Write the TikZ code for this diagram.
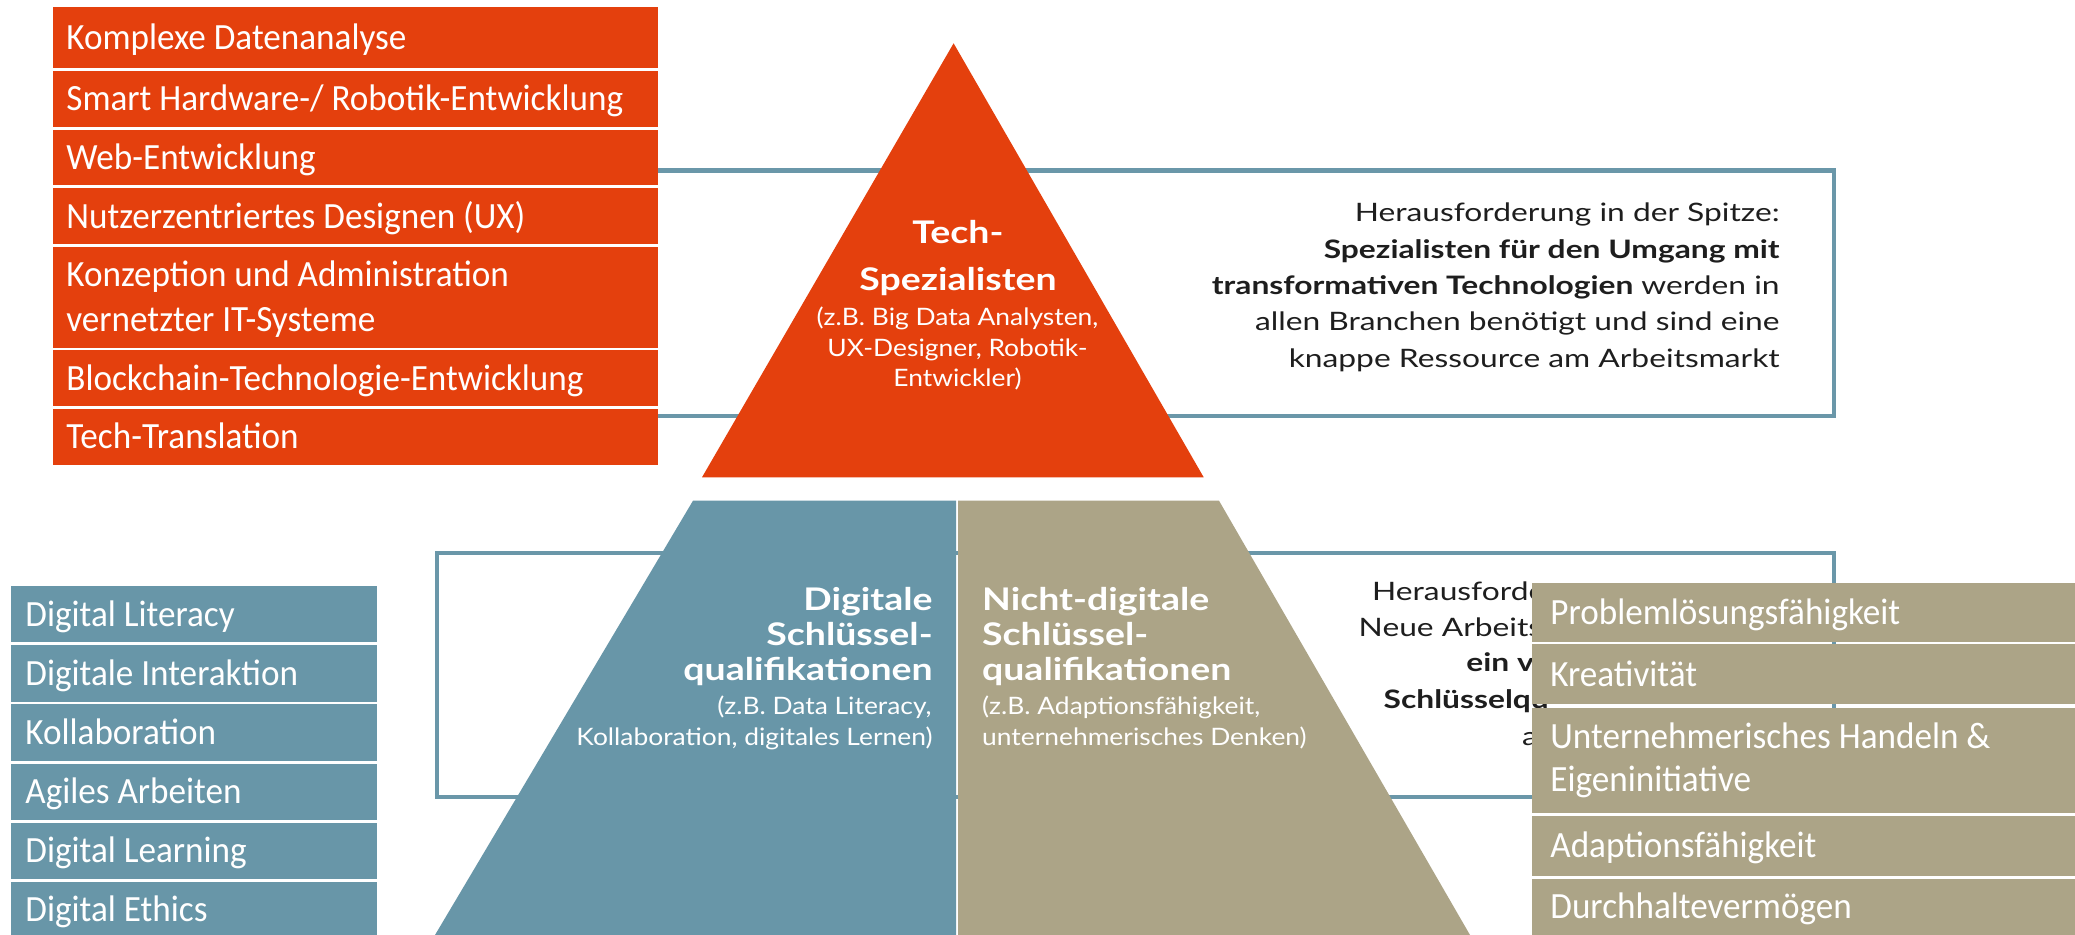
\documentclass[tikz,border=0pt]{standalone}
\usepackage{fontspec}
\setmainfont{Carlito}[FakeStretch=0.95]
\newfontfamily\boxfont{Lato}[FakeStretch=1.25]
\newfontfamily\titlefont{Lato}[FakeStretch=1.2]
\newfontfamily\smallfont{Lato}[FakeStretch=1.1]
\definecolor{orng}{HTML}{E4400D}
\definecolor{tealb}{HTML}{6896A8}
\definecolor{beige}{HTML}{ACA487}
\definecolor{outl}{HTML}{6A97A9}
\definecolor{txt}{HTML}{1E1E1E}
\tikzset{
  listtxt/.style={anchor=base west, inner sep=0pt, text=white, font=\fontsize{18.5}{22.5}\selectfont},
  boxtxtr/.style={anchor=base east, inner sep=0pt, text=txt, font=\boxfont\fontsize{12.7}{18}\selectfont},
  boxtxtl/.style={anchor=base west, inner sep=0pt, text=txt, font=\boxfont\fontsize{12.7}{18}\selectfont},
  ttitle/.style={inner sep=0pt, text=white, font=\titlefont\bfseries\fontsize{15.6}{20}\selectfont},
  tsmall/.style={inner sep=0pt, text=white, font=\smallfont\fontsize{12}{15}\selectfont},
  frame/.style={draw=outl, line width=2.25pt},
}
\begin{document}
\begin{tikzpicture}[x=0.5pt,y=-0.5pt]
\useasboundingbox (0,0) rectangle (2075,935);
\fill[white] (0,0) rectangle (2075,935);

% outline boxes (top one starts behind the orange list)
\draw[frame] (640,170.5) -- (1834,170.5) -- (1834,416) -- (640,416);
\draw[frame] (437,553) rectangle (1834,797);

% top box text
\node[boxtxtr] (t1) at (1780,221.7) {Herausforderung in der Spitze:};
\node[boxtxtr] (t2) at (1780,258.3) {\bfseries Spezialisten für den Umgang mit};
\node[boxtxtr] (t3) at (1780,294.7) {\textbf{transformativen Technologien} werden in};
\node[boxtxtr] (t4) at (1780,331) {allen Branchen benötigt und sind eine};
\node[boxtxtr] (t5) at (1780,367.3) {knappe Ressource am Arbeitsmarkt};

% lower box text (cut off by the beige list)
\node[boxtxtl] (u1) at (1371.7,600) {Herausforde};
\node[boxtxtl] (u2) at (1358.3,636.7) {Neue Arbeits};
\node[boxtxtl] (u3) at (1466,671.7) {\bfseries ein ve};
\node[boxtxtl] (u4) at (1383.3,708.3) {\bfseries Schlüsselqu};
\node[boxtxtl] (u5) at (1521.7,745) {a};

% pyramid
\fill[orng] (953.6,43.3) -- (1203.7,477.3) -- (702,477.3) -- cycle;
\fill[tealb] (693,500.7) -- (956,500.7) -- (956,935) -- (435,935) -- cycle;
\fill[beige] (958,500.7) -- (1219,500.7) -- (1470,935) -- (958,935) -- cycle;

% triangle text
\node[ttitle, anchor=base] (p1) at (958,243.3) {Tech-};
\node[ttitle, anchor=base] (p2) at (958,290.7) {Spezialisten};
\node[tsmall, anchor=base] (p3) at (957.5,326) {(z.B. Big Data Analysten,};
\node[tsmall, anchor=base] (p4) at (957.5,356.7) {UX-Designer, Robotik-};
\node[tsmall, anchor=base] (p5) at (957.5,386.7) {Entwickler)};

% lower left text
\node[ttitle, anchor=base east] (d1) at (933,610) {Digitale};
\node[ttitle, anchor=base east] (d2) at (933,645) {Schlüssel-};
\node[ttitle, anchor=base east] (d3) at (933,680) {qualifikationen};
\node[tsmall, anchor=base east] (d4) at (932,714) {(z.B. Data Literacy,};
\node[tsmall, anchor=base east] (d5) at (933,745) {Kollaboration, digitales Lernen)};

% lower right text
\node[ttitle, anchor=base west] (n1) at (981.7,610) {Nicht-digitale};
\node[ttitle, anchor=base west] (n2) at (981.7,645) {Schlüssel-};
\node[ttitle, anchor=base west] (n3) at (981.7,680) {qualifikationen};
\node[tsmall, anchor=base west] (n4) at (981.7,714) {(z.B. Adaptionsfähigkeit,};
\node[tsmall, anchor=base west] (n5) at (981.7,745) {unternehmerisches Denken)};

% orange list
\fill[orng] (53,6.7) rectangle (658,68.3);
\fill[orng] (53,71) rectangle (658,127);
\fill[orng] (53,129.7) rectangle (658,185.3);
\fill[orng] (53,188.3) rectangle (658,244.3);
\fill[orng] (53,247) rectangle (658,347.7);
\fill[orng] (53,350.3) rectangle (658,406.3);
\fill[orng] (53,409) rectangle (658,465);
\node[listtxt] (o1) at (66,49.4) {Komplexe Datenanalyse};
\node[listtxt] (o2) at (66,110.9) {Smart Hardware-/ Robotik-Entwicklung};
\node[listtxt] (o3) at (66,169.4) {Web-Entwicklung};
\node[listtxt] (o4) at (66,228.2) {Nutzerzentriertes Designen (UX)};
\node[listtxt] (o5a) at (66,287) {Konzeption und Administration};
\node[listtxt] (o5b) at (66,332) {vernetzter IT-Systeme};
\node[listtxt] (o6) at (66,390.2) {Blockchain-Technologie-Entwicklung};
\node[listtxt] (o7) at (66,448.9) {Tech-Translation};

% blue list
\fill[tealb] (11,586) rectangle (377,642.3);
\fill[tealb] (11,645) rectangle (377,701.7);
\fill[tealb] (11,704.3) rectangle (377,761);
\fill[tealb] (11,763.7) rectangle (377,820);
\fill[tealb] (11,822.7) rectangle (377,879.3);
\fill[tealb] (11,882) rectangle (377,935);
\node[listtxt] (b1) at (25,626) {Digital Literacy};
\node[listtxt] (b2) at (25,685.2) {Digitale Interaktion};
\node[listtxt] (b3) at (25,744.5) {Kollaboration};
\node[listtxt] (b4) at (25,803.7) {Agiles Arbeiten};
\node[listtxt] (b5) at (25,862.9) {Digital Learning};
\node[listtxt] (b6) at (25,921.5) {Digital Ethics};

% beige list
\fill[beige] (1532,582.7) rectangle (2075,641.7);
\fill[beige] (1532,644.3) rectangle (2075,704.3);
\fill[beige] (1532,707.7) rectangle (2075,812.7);
\fill[beige] (1532,816) rectangle (2075,876);
\fill[beige] (1532,878.7) rectangle (2075,935);
\node[listtxt] (g1) at (1550,624) {Problemlösungsfähigkeit};
\node[listtxt] (g2) at (1550,686.2) {Kreativität};
\node[listtxt] (g3a) at (1550,748) {Unternehmerisches Handeln \&};
\node[listtxt] (g3b) at (1550,791.7) {Eigeninitiative};
\node[listtxt] (g4) at (1550,857.9) {Adaptionsfähigkeit};
\node[listtxt] (g5) at (1550,918.7) {Durchhaltevermögen};
\end{tikzpicture}
\end{document}
